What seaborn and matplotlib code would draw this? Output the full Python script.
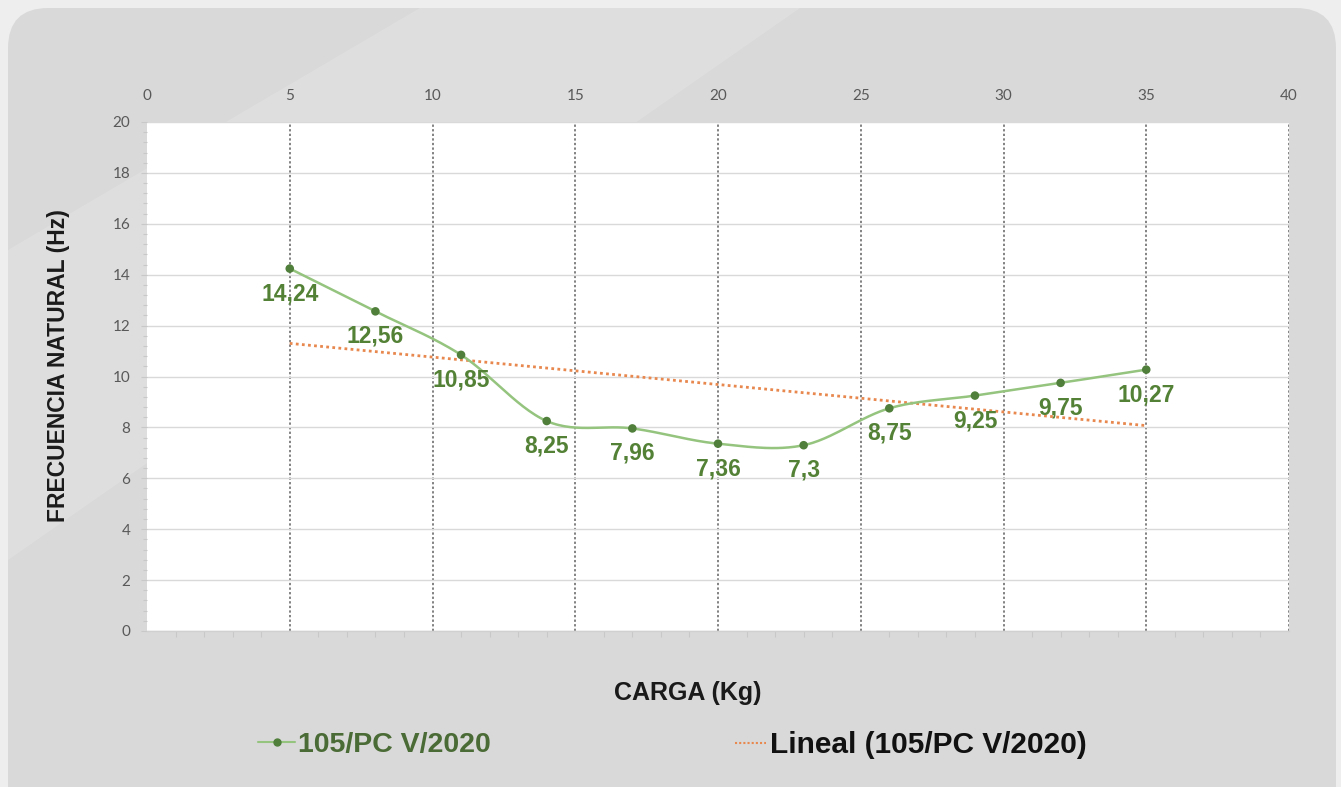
import numpy as np
import pandas as pd
import matplotlib
matplotlib.use("Agg")
import matplotlib.pyplot as plt
from matplotlib.patches import FancyBboxPatch, Polygon
from matplotlib.lines import Line2D
from matplotlib.ticker import MultipleLocator
import seaborn as sns

# ---- data ----
carga = [5, 8, 11, 14, 17, 20, 23, 26, 29, 32, 35]
frecuencia = [14.24, 12.56, 10.85, 8.25, 7.96, 7.36, 7.3, 8.75, 9.25, 9.75, 10.27]
etiquetas = ["14,24", "12,56", "10,85", "8,25", "7,96", "7,36", "7,3", "8,75", "9,25", "9,75", "10,27"]
x_ticks = [0, 5, 10, 15, 20, 25, 30, 35, 40]
y_ticks = [0, 2, 4, 6, 8, 10, 12, 14, 16, 18, 20]
serie = "105/PC V/2020"
serie_tend = "Lineal (105/PC V/2020)"

sns.set_theme(style="white")
plt.rcParams["font.family"] = ["Liberation Sans", "DejaVu Sans"]

W, H = 1341, 787
fig = plt.figure(figsize=(W / 100, H / 100), dpi=100)
fig.patch.set_facecolor("#eeeeee")

# panel background
panel = FancyBboxPatch((8 / W, -0.05), (1336 - 8) / W, 1 - 8 / H + 0.05,
                       boxstyle="round,pad=0,rounding_size=0.03",
                       transform=fig.transFigure, facecolor="#d9d9d9", edgecolor="none", zorder=-3,
                       mutation_aspect=W / H)
fig.patches.append(panel)
# subtle diagonal light band top-left
band = Polygon([(8 / W, 1 - 560 / H), (8 / W, 1 - 250 / H), (420 / W, 1 - 8 / H), (800 / W, 1 - 8 / H)],
               closed=True, transform=fig.transFigure, facecolor="white", alpha=0.15,
               edgecolor="none", zorder=-2)
fig.patches.append(band)

ax = fig.add_axes([147 / W, 1 - 631 / H, (1289 - 147) / W, (631 - 122) / H])
ax.set_facecolor("white")

# smoothed curve (Excel-style Catmull-Rom Bezier through the points)
xs = np.array(carga, dtype=float)
ys = np.array(frecuencia, dtype=float)
px = np.concatenate([[xs[0]], xs, [xs[-1]]])
py = np.concatenate([[ys[0]], ys, [ys[-1]]])
cx, cy = [], []
t = np.linspace(0, 1, 30)
for i in range(1, len(px) - 2):
    p0 = np.array([px[i], py[i]])
    p3 = np.array([px[i + 1], py[i + 1]])
    p1 = p0 + (np.array([px[i + 1], py[i + 1]]) - np.array([px[i - 1], py[i - 1]])) / 6
    p2 = p3 - (np.array([px[i + 2], py[i + 2]]) - np.array([px[i], py[i]])) / 6
    b = ((1 - t) ** 3)[:, None] * p0 + (3 * (1 - t) ** 2 * t)[:, None] * p1 + \
        (3 * (1 - t) * t ** 2)[:, None] * p2 + (t ** 3)[:, None] * p3
    cx.extend(b[:, 0])
    cy.extend(b[:, 1])
curve = pd.DataFrame({"x": cx, "y": cy})
ax.plot(curve["x"], curve["y"], color="#94c47e", lw=1.8, zorder=3, solid_capstyle="round")

df = pd.DataFrame({"carga": carga, "frecuencia": frecuencia})
sns.scatterplot(data=df, x="carga", y="frecuencia", ax=ax, color="#4f7f3a", s=38,
                edgecolor="none", zorder=4, legend=False)

# linear trend
slope, intercept = np.polyfit(xs, ys, 1)
tx = np.array([xs.min(), xs.max()])
trend = pd.DataFrame({"x": tx, "y": slope * tx + intercept})
sns.lineplot(data=trend, x="x", y="y", ax=ax, color="#e8884f", lw=2, linestyle=(0, (1, 1.2)),
             zorder=2, legend=False)

for xv, yv, lab in zip(carga, frecuencia, etiquetas):
    ax.annotate(lab, (xv, yv), xytext=(0, -25), textcoords="offset pixels",
                ha="center", va="center", fontsize=16.5, fontweight="bold", color="#538135", zorder=5)

ax.set_xlim(0, 40)
ax.set_ylim(0, 20)
ax.set_xticks(x_ticks)
ax.set_yticks(y_ticks)
ax.xaxis.set_minor_locator(MultipleLocator(1))
ax.yaxis.set_minor_locator(MultipleLocator(0.4))
ax.set_xlabel("")
ax.set_ylabel("")

ax.tick_params(axis="x", which="major", top=True, labeltop=True, bottom=False, labelbottom=False,
               length=0, pad=14, labelsize=11, labelcolor="#595959")
ax.tick_params(axis="x", which="minor", bottom=True, top=False, length=4, width=0.8, color="#c8c8c8")
ax.tick_params(axis="y", which="major", left=True, length=4, width=0.8, color="#c8c8c8",
               pad=8, labelsize=11, labelcolor="#595959")
ax.tick_params(axis="y", which="minor", left=True, length=3, width=0.8, color="#c8c8c8")
for lbl in ax.get_xticklabels() + ax.get_yticklabels():
    lbl.set_family(["Lato", "DejaVu Sans"])

for s in ["top", "right", "left"]:
    ax.spines[s].set_visible(False)
ax.spines["bottom"].set_color("#d0d0d0")
ax.spines["bottom"].set_linewidth(1)

ax.yaxis.grid(True, color="#d9d9d9", lw=1, zorder=0)
ax.xaxis.grid(True, which="major", color="#606060", lw=1.1, linestyle=(0, (1.5, 1.5)))
ax.get_xgridlines()[0].set_visible(False)
ax.set_axisbelow(True)

fig.text(59 / W, 1 - 366 / H, "FRECUENCIA NATURAL (Hz)", rotation=90, ha="center", va="center",
         fontsize=16.5, fontweight="bold", color="#1a1a1a")
fig.text(688 / W, 1 - 693 / H, "CARGA (Kg)", ha="center", va="center",
         fontsize=18, fontweight="bold", color="#1a1a1a")

h1 = Line2D([], [], color="#94c47e", lw=1.5, marker="o", markersize=5,
            markerfacecolor="#4f7f3a", markeredgecolor="#4f7f3a")
h2 = Line2D([], [], color="#e8884f", lw=1.5, linestyle=(0, (1, 1)))
leg1 = fig.legend([h1], [serie], loc="center left", bbox_to_anchor=(258 / W, 1 - 745 / H),
                  frameon=False, fontsize=20.5, handlelength=1.3, handletextpad=0.1,
                  borderpad=0, borderaxespad=0)
leg1.get_texts()[0].set_color("#4a6b35")
leg1.get_texts()[0].set_fontweight("bold")
leg2 = fig.legend([h2], [serie_tend], loc="center left", bbox_to_anchor=(735 / W, 1 - 745 / H),
                  frameon=False, fontsize=21.5, handlelength=1.05, handletextpad=0.12,
                  borderpad=0, borderaxespad=0)
leg2.get_texts()[0].set_color("#111111")
leg2.get_texts()[0].set_fontweight("bold")

fig.savefig("out.png", dpi=100, facecolor=fig.get_facecolor())
